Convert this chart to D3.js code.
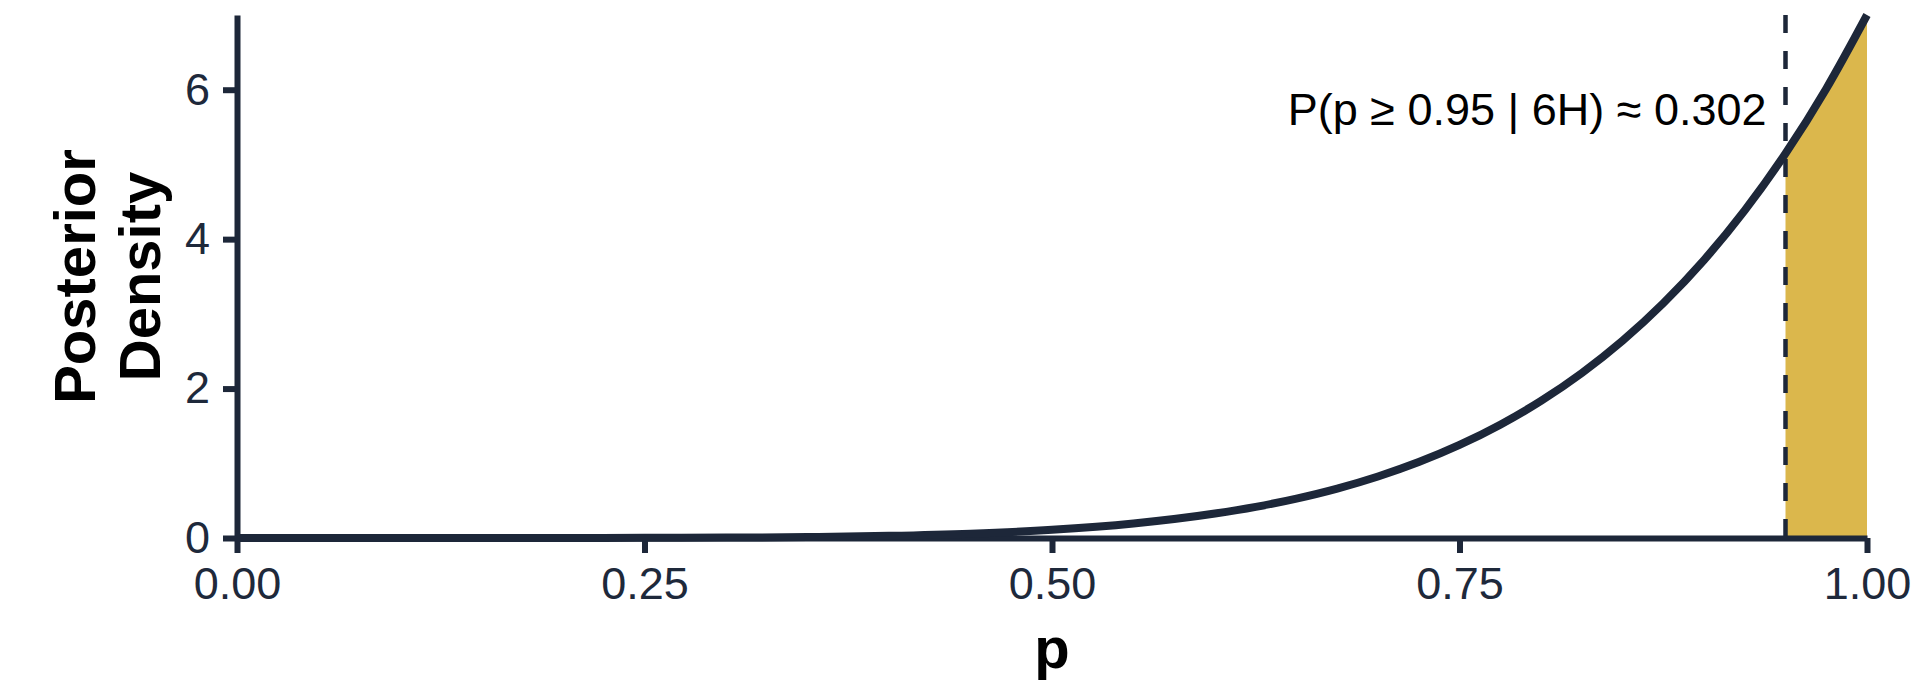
<!DOCTYPE html>
<html>
<head>
<meta charset="utf-8">
<script src="https://cdn.jsdelivr.net/npm/d3@7"></script>
<style>
  body { margin: 0; background: #fff; }
  svg { display: block; }
</style>
</head>
<body>
<script>
// posterior density
var pValues = [0, 0.05, 0.1, 0.15, 0.2, 0.25, 0.3, 0.35, 0.4, 0.45, 0.5, 0.55, 0.6, 0.625,
               0.65, 0.675, 0.7, 0.725, 0.75, 0.775, 0.8, 0.825, 0.85, 0.875, 0.9, 0.925,
               0.95, 0.975, 1.0];
var densityValues = [0, 0, 0, 0.0001, 0.0004, 0.0017, 0.0051, 0.013, 0.029, 0.058, 0.109, 0.194, 0.327, 0.417,
                     0.528, 0.662, 0.824, 1.017, 1.246, 1.517, 1.835, 2.207, 2.640, 3.142, 3.720, 4.385,
                     5.146, 6.014, 7.0];
var xTicks = [0, 0.25, 0.5, 0.75, 1];
var xTickLabels = ["0.00", "0.25", "0.50", "0.75", "1.00"];
var yTicks = [0, 2, 4, 6];
var yTickLabels = ["0", "2", "4", "6"];
var cutoff = 0.95;
var annotation = "P(p \u2265 0.95 | 6H) \u2248 0.302";

var width = 1920, height = 691;
var margin = {top: 15, right: 53, bottom: 153, left: 237};

var ink = "#1d2739";
var tickInk = "#1e293b";
var gold = "#dbb74c";
var font = "'Liberation Sans', Arial, Helvetica, sans-serif";

var data = pValues.map(function(p, i) { return {p: p, d: densityValues[i]}; });

var svg = d3.select("body").append("svg")
    .attr("width", width).attr("height", height);

var x = d3.scaleLinear().domain([0, 1]).range([margin.left, width - margin.right]);
var y = d3.scaleLinear().domain([0, 7]).range([height - margin.bottom, margin.top]);

// shaded tail
var tail = data.filter(function(d) { return d.p >= cutoff; });
svg.append("path")
    .datum(tail)
    .attr("fill", gold)
    .attr("d", d3.area()
        .x(function(d) { return x(d.p); })
        .y0(y(0))
        .y1(function(d) { return y(d.d); })
        .curve(d3.curveMonotoneX));

// cutoff line
svg.append("line")
    .attr("x1", x(cutoff)).attr("x2", x(cutoff))
    .attr("y1", y(7)).attr("y2", y(0))
    .attr("stroke", ink).attr("stroke-width", 4.5)
    .attr("stroke-dasharray", "18 18");

// axes
var xAxis = svg.append("g")
    .attr("transform", "translate(0," + y(0) + ")")
    .call(d3.axisBottom(x).tickValues(xTicks)
        .tickFormat(function(d, i) { return xTickLabels[i]; })
        .tickSize(15).tickSizeOuter(0).tickPadding(14));

var yAxis = svg.append("g")
    .attr("transform", "translate(" + x(0) + ",0)")
    .call(d3.axisLeft(y).tickValues(yTicks)
        .tickFormat(function(d, i) { return yTickLabels[i]; })
        .tickSize(14).tickSizeOuter(0).tickPadding(13));

[xAxis, yAxis].forEach(function(g) {
    g.select(".domain").attr("stroke", ink).attr("stroke-width", 6);
    g.selectAll(".tick line").attr("stroke", ink).attr("stroke-width", 6);
    g.selectAll(".tick text")
        .attr("fill", tickInk)
        .style("font-family", font)
        .style("font-size", "45px");
});

// density curve
svg.append("path")
    .datum(data)
    .attr("fill", "none")
    .attr("stroke", ink)
    .attr("stroke-width", 8)
    .attr("d", d3.line()
        .x(function(d) { return x(d.p); })
        .y(function(d) { return y(d.d); })
        .curve(d3.curveMonotoneX));

// annotation
svg.append("text")
    .attr("x", x(cutoff) - 19)
    .attr("y", y(5.53))
    .attr("text-anchor", "end")
    .attr("fill", "#000")
    .style("font-family", font)
    .style("font-size", "45px")
    .text(annotation);

// axis titles
svg.append("text")
    .attr("x", (x(0) + x(1)) / 2)
    .attr("y", 668)
    .attr("text-anchor", "middle")
    .style("font-family", font)
    .style("font-size", "58px")
    .style("font-weight", "bold")
    .text("p");

var yTitle = svg.append("text")
    .attr("transform", "translate(95," + (y(0) + y(7)) / 2 + ") rotate(-90)")
    .attr("text-anchor", "middle")
    .style("font-family", font)
    .style("font-size", "58px")
    .style("font-weight", "bold");
yTitle.append("tspan").attr("x", 0).attr("y", 0).text("Posterior");
yTitle.append("tspan").attr("x", 0).attr("y", 65).text("Density");
</script>
</body>
</html>
